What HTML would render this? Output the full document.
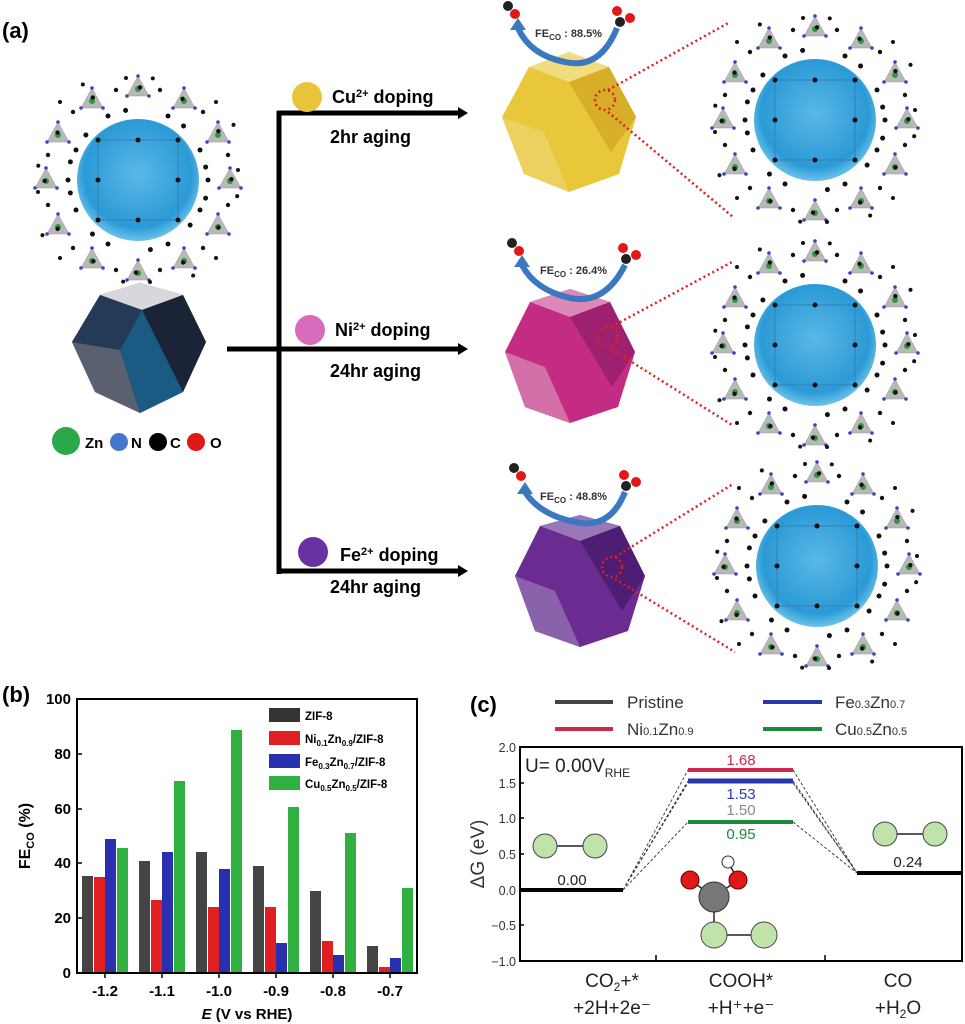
<!DOCTYPE html>
<html><head><meta charset="utf-8"><style>
html,body{margin:0;padding:0;background:#fff}
svg{display:block;font-family:"Liberation Sans",sans-serif}
</style></head><body>
<svg width="965" height="1024" viewBox="0 0 965 1024" xmlns="http://www.w3.org/2000/svg">
<defs>
<radialGradient id="bs" cx="0.5" cy="0.45" r="0.55"><stop offset="0" stop-color="#5bb8e6"/><stop offset="0.8" stop-color="#2a9ad6"/><stop offset="1" stop-color="#6cc3ea"/></radialGradient>
<g id="tri"><polygon points="0,-12 11,8 -11,8" fill="#b8b8b8" stroke="#999" stroke-width="0.5"/><circle cx="0" cy="1" r="3" fill="#2a9a3a"/><circle cx="0" cy="-12" r="1.8" fill="#3a44c0"/><circle cx="11" cy="8" r="1.8" fill="#3a44c0"/><circle cx="-11" cy="8" r="1.8" fill="#3a44c0"/></g>
<g id="dots" fill="#111">
<circle cx="70" cy="0" r="2.5"/><circle cx="62" cy="30" r="2.5"/><circle cx="30" cy="64" r="2.5"/><circle cx="-30" cy="64" r="2.5"/><circle cx="-62" cy="30" r="2.5"/><circle cx="-70" cy="0" r="2.5"/><circle cx="-62" cy="-30" r="2.5"/><circle cx="-30" cy="-64" r="2.5"/><circle cx="30" cy="-64" r="2.5"/><circle cx="62" cy="-30" r="2.5"/>
<circle cx="90" cy="25" r="2.2"/><circle cx="65" cy="68" r="2.2"/><circle cx="22" cy="90" r="2.2"/><circle cx="-22" cy="90" r="2.2"/><circle cx="-65" cy="68" r="2.2"/><circle cx="-90" cy="25" r="2.2"/><circle cx="-90" cy="-25" r="2.2"/><circle cx="-65" cy="-68" r="2.2"/><circle cx="-22" cy="-90" r="2.2"/><circle cx="22" cy="-90" r="2.2"/><circle cx="65" cy="-68" r="2.2"/><circle cx="90" cy="-25" r="2.2"/>
<circle cx="100" cy="-10" r="2"/><circle cx="-100" cy="12" r="2"/><circle cx="12" cy="102" r="2"/><circle cx="-12" cy="-102" r="2"/><circle cx="78" cy="78" r="2"/><circle cx="-78" cy="-78" r="2"/><circle cx="78" cy="-78" r="2"/><circle cx="-78" cy="78" r="2"/>
</g>
<g id="ring">
<use href="#tri" x="92" y="0"/><use href="#tri" x="80" y="46"/><use href="#tri" x="46" y="80"/><use href="#tri" x="0" y="92"/><use href="#tri" x="-46" y="80"/><use href="#tri" x="-80" y="46"/><use href="#tri" x="-92" y="0"/><use href="#tri" x="-80" y="-46"/><use href="#tri" x="-46" y="-80"/><use href="#tri" x="0" y="-92"/><use href="#tri" x="46" y="-80"/><use href="#tri" x="80" y="-46"/>
<use href="#dots"/><use href="#dots" transform="rotate(15)"/>
</g>
<g id="core"><circle r="61" fill="url(#bs)"/><rect x="-40" y="-40" width="80" height="80" fill="none" stroke="#3d7fb8" stroke-width="1.5" opacity="0.7"/><g fill="#111"><circle cx="-40" cy="-40" r="2.5"/><circle cx="40" cy="-40" r="2.5"/><circle cx="-40" cy="40" r="2.5"/><circle cx="40" cy="40" r="2.5"/><circle cx="0" cy="-40" r="2.5"/><circle cx="0" cy="40" r="2.5"/><circle cx="-40" cy="0" r="2.5"/><circle cx="40" cy="0" r="2.5"/></g></g>
</defs>

<text x="2" y="38" font-size="22" font-weight="bold">(a)</text>
<g transform="translate(138,180)"><use href="#core"/><use href="#ring"/></g>
<g>
<polygon points="100,295 140,283 183,295 206,342 183,392 140,413 95,392 72,342" fill="#1e2e44"/>
<polygon points="100,295 140,283 183,295 142,310" fill="#d8d8dc"/>
<polygon points="142,310 183,295 206,342 183,392" fill="#1a2436"/>
<polygon points="142,310 183,392 140,413 120,350" fill="#1b5a82"/>
<polygon points="72,342 120,350 140,413 95,392" fill="#5a6070"/>
<polygon points="100,295 142,310 120,350 72,342" fill="#243a56"/>
</g>
<circle cx="66" cy="441" r="14" fill="#2aa84a"/><text x="85" y="448" font-size="15" font-weight="bold">Zn</text>
<circle cx="119" cy="442" r="9" fill="#4477cc"/><text x="131" y="448" font-size="15" font-weight="bold">N</text>
<circle cx="158" cy="442" r="9" fill="#000"/><text x="170" y="448" font-size="15" font-weight="bold">C</text>
<circle cx="196" cy="442" r="9" fill="#e01818"/><text x="210" y="448" font-size="15" font-weight="bold">O</text>
<g stroke="#000" stroke-width="5" fill="none">
<line x1="279" y1="111" x2="279" y2="574"/><line x1="227" y1="349" x2="460" y2="349"/><line x1="277" y1="113" x2="460" y2="113"/><line x1="277" y1="571" x2="460" y2="571"/>
</g>
<g fill="#000"><polygon points="458,107 468,113 458,119"/><polygon points="458,343 468,349 458,355"/><polygon points="458,565 468,571 458,577"/></g>
<circle cx="307" cy="97" r="15" fill="#e8c43a"/><text x="332" y="103" font-size="18" font-weight="bold">Cu<tspan font-size="11" dy="-6">2+</tspan><tspan dy="6"> doping</tspan></text>
<text x="330" y="143" font-size="18" font-weight="bold">2hr aging</text>
<circle cx="310" cy="330" r="15" fill="#d86cbc"/><text x="335" y="336" font-size="18" font-weight="bold">Ni<tspan font-size="11" dy="-6">2+</tspan><tspan dy="6"> doping</tspan></text>
<text x="330" y="377" font-size="18" font-weight="bold">24hr aging</text>
<circle cx="313" cy="552" r="15" fill="#6a32a0"/><text x="340" y="561" font-size="18" font-weight="bold">Fe<tspan font-size="11" dy="-6">2+</tspan><tspan dy="6"> doping</tspan></text>
<text x="330" y="593" font-size="18" font-weight="bold">24hr aging</text>

<g transform="translate(569,122)">
<polygon points="-40,-55 0,-70 40,-55 67,-5 50,52 0,70 -45,52 -67,-5" fill="#e8c83a"/>
<polygon points="-40,-55 0,-70 40,-55 0,-40" fill="#f2dc80"/>
<polygon points="0,-40 40,-55 67,-5 42,30" fill="#d6ae28"/>
<polygon points="-67,-5 -25,10 0,70 -45,52" fill="#ecd060"/>
</g>
<g transform="translate(570,357)">
<polygon points="-40,-55 0,-68 40,-55 65,-5 48,50 0,66 -45,50 -65,-5" fill="#c42c84"/>
<polygon points="-40,-55 0,-68 40,-55 0,-40" fill="#dc88b8"/>
<polygon points="0,-40 40,-55 65,-5 42,30" fill="#9e2070"/>
<polygon points="-65,-5 -25,10 0,66 -45,50" fill="#d470a8"/>
</g>
<g transform="translate(580,581)">
<polygon points="-40,-55 0,-66 40,-55 65,-5 48,50 0,66 -45,50 -65,-5" fill="#6a2c90"/>
<polygon points="-40,-55 0,-66 40,-55 0,-40" fill="#9a78b8"/>
<polygon points="0,-40 40,-55 65,-5 42,30" fill="#4e1e74"/>
<polygon points="-65,-5 -25,10 0,66 -45,50" fill="#8a62ac"/>
</g>
<g fill="none" stroke="#3a78c0" stroke-width="6">
<path d="M617,28 Q600,70 565,62 Q530,55 518,28"/>
<path d="M625,265 Q605,305 570,298 Q535,290 522,265"/>
<path d="M625,492 Q610,530 575,522 Q540,515 525,492"/>
</g>
<g fill="#3a78c0"><polygon points="510,30 518,18 526,30"/><polygon points="514,267 522,255 530,267"/><polygon points="517,494 525,482 533,494"/></g>
<g font-size="11" font-weight="bold" fill="#333">
<text x="535" y="37">FE<tspan font-size="8" dy="3">CO</tspan><tspan dy="-3"> : 88.5%</tspan></text>
<text x="540" y="274">FE<tspan font-size="8" dy="3">CO</tspan><tspan dy="-3"> : 26.4%</tspan></text>
<text x="540" y="500">FE<tspan font-size="8" dy="3">CO</tspan><tspan dy="-3"> : 48.8%</tspan></text>
</g>
<g>
<circle cx="508" cy="6" r="5" fill="#222"/><circle cx="515" cy="14" r="5" fill="#e01818"/>
<circle cx="617" cy="11" r="5" fill="#e01818"/><circle cx="620" cy="22" r="5" fill="#222"/><circle cx="630" cy="18" r="5" fill="#e01818"/>
<circle cx="512" cy="243" r="5" fill="#222"/><circle cx="519" cy="251" r="5" fill="#e01818"/>
<circle cx="623" cy="248" r="5" fill="#e01818"/><circle cx="626" cy="259" r="5" fill="#222"/><circle cx="636" cy="255" r="5" fill="#e01818"/>
<circle cx="514" cy="468" r="5" fill="#222"/><circle cx="521" cy="476" r="5" fill="#e01818"/>
<circle cx="624" cy="475" r="5" fill="#e01818"/><circle cx="626" cy="486" r="5" fill="#222"/><circle cx="636" cy="482" r="5" fill="#e01818"/>
</g>
<g fill="none" stroke="#e02020" stroke-width="2.5" stroke-dasharray="2,3">
<circle cx="605" cy="100" r="10"/><path d="M608,90 L730,22 M608,112 L733,217"/>
<circle cx="608" cy="337" r="10"/><path d="M611,327 L732,262 M611,349 L732,425"/>
<circle cx="612" cy="567" r="10"/><path d="M615,557 L733,484 M615,579 L735,652"/>
</g>
<g transform="translate(815,120)"><use href="#core"/><use href="#ring"/></g>
<g transform="translate(815,345)"><use href="#core"/><use href="#ring"/></g>
<g transform="translate(817,566)"><use href="#core"/><use href="#ring"/></g>

<text x="2" y="702" font-size="22" font-weight="bold">(b)</text>
<g font-size="15" font-weight="bold" text-anchor="end">
<text x="71" y="704">100</text><text x="71" y="759">80</text><text x="71" y="814">60</text><text x="71" y="868">40</text><text x="71" y="923">20</text><text x="71" y="978">0</text>
</g>
<g stroke="#000" stroke-width="1.5">
<line x1="77" y1="699" x2="82" y2="699"/><line x1="77" y1="754" x2="82" y2="754"/><line x1="77" y1="809" x2="82" y2="809"/><line x1="77" y1="863" x2="82" y2="863"/><line x1="77" y1="918" x2="82" y2="918"/>
<line x1="105" y1="973" x2="105" y2="978"/><line x1="162" y1="973" x2="162" y2="978"/><line x1="219" y1="973" x2="219" y2="978"/><line x1="276" y1="973" x2="276" y2="978"/><line x1="333" y1="973" x2="333" y2="978"/><line x1="390" y1="973" x2="390" y2="978"/>
</g>
<g>
<g fill="#444"><rect x="82" y="876" width="11" height="97"/><rect x="139" y="861" width="11" height="112"/><rect x="196" y="852" width="11" height="121"/><rect x="253" y="866" width="11" height="107"/><rect x="310" y="891" width="11" height="82"/><rect x="367" y="946" width="11" height="27"/></g>
<g fill="#e02020"><rect x="94" y="877" width="11" height="96"/><rect x="151" y="900" width="11" height="73"/><rect x="208" y="907" width="11" height="66"/><rect x="265" y="907" width="11" height="66"/><rect x="322" y="941" width="11" height="32"/><rect x="379" y="967" width="11" height="6"/></g>
<g fill="#2830b0"><rect x="105" y="839" width="11" height="134"/><rect x="162" y="852" width="11" height="121"/><rect x="219" y="869" width="11" height="104"/><rect x="276" y="943" width="11" height="30"/><rect x="333" y="955" width="11" height="18"/><rect x="390" y="958" width="11" height="15"/></g>
<g fill="#30b040"><rect x="117" y="848" width="11" height="125"/><rect x="174" y="781" width="11" height="192"/><rect x="231" y="730" width="11" height="243"/><rect x="288" y="807" width="11" height="166"/><rect x="345" y="833" width="11" height="140"/><rect x="402" y="888" width="11" height="85"/></g>
</g>
<rect x="77" y="699" width="340" height="274" fill="none" stroke="#000" stroke-width="2"/>
<g font-size="15" font-weight="bold" text-anchor="middle">
<text x="105" y="996">-1.2</text><text x="162" y="996">-1.1</text><text x="219" y="996">-1.0</text><text x="276" y="996">-0.9</text><text x="333" y="996">-0.8</text><text x="390" y="996">-0.7</text>
<text x="247" y="1019"><tspan font-style="italic">E</tspan> (V vs  RHE)</text>
</g>
<text transform="translate(30,836) rotate(-90)" font-size="16" font-weight="bold" text-anchor="middle">FE<tspan font-size="11" dy="4">CO</tspan><tspan dy="-4"> (%)</tspan></text>
<rect x="269" y="708" width="31" height="14" fill="#333"/><rect x="269" y="731" width="31" height="14" fill="#e02020"/><rect x="269" y="754" width="31" height="14" fill="#2830b0"/><rect x="269" y="776" width="31" height="14" fill="#30b040"/>
<g font-size="11.5" font-weight="bold">
<text x="305" y="720">ZIF-8</text>
<text x="305" y="743">Ni<tspan font-size="8" dy="3">0.1</tspan><tspan dy="-3">Zn</tspan><tspan font-size="8" dy="3">0.9</tspan><tspan dy="-3">/ZIF-8</tspan></text>
<text x="305" y="766">Fe<tspan font-size="8" dy="3">0.3</tspan><tspan dy="-3">Zn</tspan><tspan font-size="8" dy="3">0.7</tspan><tspan dy="-3">/ZIF-8</tspan></text>
<text x="305" y="788">Cu<tspan font-size="8" dy="3">0.5</tspan><tspan dy="-3">Zn</tspan><tspan font-size="8" dy="3">0.5</tspan><tspan dy="-3">/ZIF-8</tspan></text>
</g>

<text x="470" y="712" font-size="22" font-weight="bold">(c)</text>
<g stroke-width="4"><line x1="555" y1="702" x2="613" y2="702" stroke="#444"/><line x1="555" y1="729" x2="613" y2="729" stroke="#d0284a"/><line x1="763" y1="702" x2="822" y2="702" stroke="#2838a8"/><line x1="763" y1="729" x2="822" y2="729" stroke="#1a8a3a"/></g>
<g font-size="17" fill="#333">
<text x="627" y="708">Pristine</text>
<text x="627" y="735">Ni<tspan font-size="11">0.1</tspan>Zn<tspan font-size="11">0.9</tspan></text>
<text x="835" y="708">Fe<tspan font-size="11">0.3</tspan>Zn<tspan font-size="11">0.7</tspan></text>
<text x="835" y="735">Cu<tspan font-size="11">0.5</tspan>Zn<tspan font-size="11">0.5</tspan></text>
</g>
<g font-size="12.5" text-anchor="end" fill="#333">
<text x="516" y="752">2.0</text><text x="516" y="788">1.5</text><text x="516" y="823">1.0</text><text x="516" y="859">0.5</text><text x="516" y="895">0.0</text><text x="516" y="930">−0.5</text><text x="516" y="966">−1.0</text>
</g>
<g stroke="#000" stroke-width="1.5"><line x1="520" y1="783" x2="524" y2="783"/><line x1="520" y1="818" x2="524" y2="818"/><line x1="520" y1="854" x2="524" y2="854"/><line x1="520" y1="890" x2="524" y2="890"/><line x1="520" y1="925" x2="524" y2="925"/><line x1="656" y1="961" x2="656" y2="955"/><line x1="825" y1="961" x2="825" y2="955"/></g>
<text transform="translate(484,854) rotate(-90)" font-size="19" text-anchor="middle" fill="#333">ΔG (eV)</text>
<text x="525" y="772" font-size="19" fill="#222">U= 0.00V<tspan font-size="12" dy="5">RHE</tspan></text>
<g stroke="#333" stroke-width="0.9" stroke-dasharray="3,2" fill="none">
<path d="M623,890 L688,770 M623,890 L688,781 M623,890 L688,783 M623,890 L688,822"/>
<path d="M793,770 L857,873 M793,781 L857,873 M793,783 L857,873 M793,822 L857,873"/>
</g>
<g stroke-width="4">
<line x1="520" y1="890" x2="623" y2="890" stroke="#000"/><line x1="857" y1="873" x2="962" y2="873" stroke="#000"/>
<line x1="688" y1="770" x2="793" y2="770" stroke="#d0284a"/><line x1="688" y1="781" x2="793" y2="781" stroke="#2838a8" stroke-width="5"/><line x1="688" y1="822" x2="793" y2="822" stroke="#1a8a3a"/>
</g>
<g font-size="15" text-anchor="middle">
<text x="741" y="765" fill="#d0284a">1.68</text><text x="741" y="799" fill="#2838a8">1.53</text><text x="741" y="815" fill="#888">1.50</text><text x="741" y="839" fill="#1a8a3a">0.95</text>
<text x="572" y="885" fill="#222">0.00</text><text x="908" y="867" fill="#222">0.24</text>
</g>
<g stroke="#222" stroke-width="1.5">
<line x1="545" y1="846" x2="595" y2="846"/><line x1="877" y1="834" x2="930" y2="834"/>
<line x1="714" y1="897" x2="690" y2="880"/><line x1="714" y1="897" x2="738" y2="880"/><line x1="714" y1="897" x2="714" y2="935"/><line x1="714" y1="935" x2="764" y2="935"/><line x1="738" y1="880" x2="728" y2="862"/>
</g>
<g fill="#bfe3a8" stroke="#445" stroke-width="1">
<circle cx="545" cy="846" r="12"/><circle cx="595" cy="846" r="12"/><circle cx="885" cy="834" r="12"/><circle cx="935" cy="834" r="12"/><circle cx="714" cy="935" r="13"/><circle cx="764" cy="935" r="13"/>
</g>
<circle cx="690" cy="880" r="9" fill="#e01818" stroke="#600"/><circle cx="738" cy="880" r="9" fill="#e01818" stroke="#600"/>
<circle cx="714" cy="897" r="15" fill="#777" stroke="#333"/><circle cx="728" cy="862" r="6" fill="#fff" stroke="#333"/>
<rect x="520" y="747" width="442" height="214" fill="none" stroke="#000" stroke-width="2"/>
<g font-size="19" text-anchor="middle" fill="#222">
<text x="612" y="987">CO<tspan font-size="12" dy="4">2</tspan><tspan dy="-4">+*</tspan></text><text x="612" y="1014">+2H+2e⁻</text>
<text x="741" y="987">COOH*</text><text x="741" y="1014">+H⁺+e⁻</text>
<text x="898" y="987">CO</text><text x="898" y="1014">+H<tspan font-size="12" dy="4">2</tspan><tspan dy="-4">O</tspan></text>
</g>
</svg>
</body></html>
